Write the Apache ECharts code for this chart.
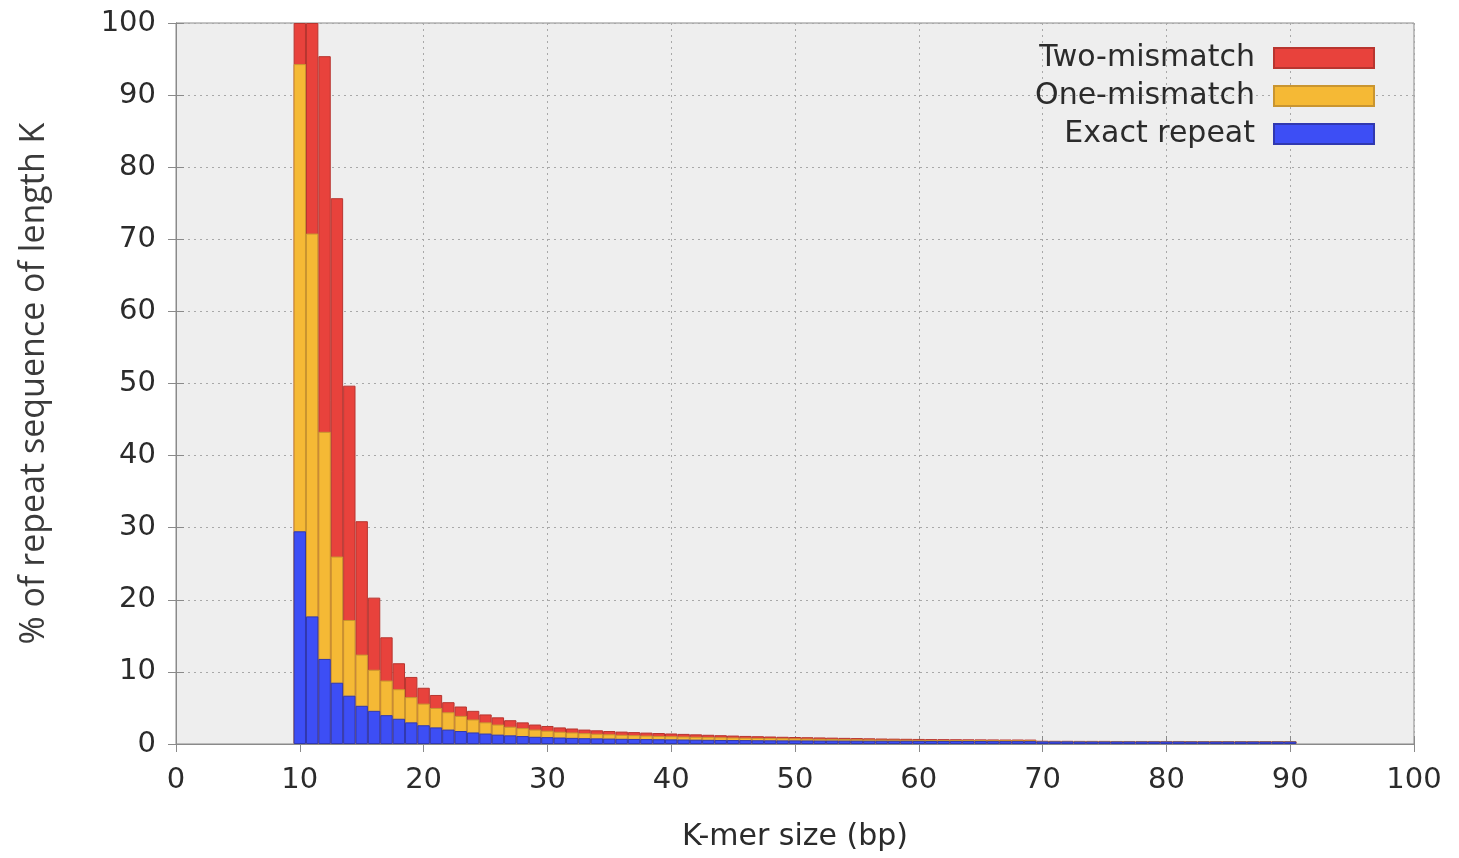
<!DOCTYPE html>
<html>
<head>
<meta charset="utf-8">
<script src="https://cdn.jsdelivr.net/npm/echarts@6/dist/echarts.min.js"></script>
<style>html,body{margin:0;padding:0;background:#fff;}#c{width:1459px;height:858px;}</style>
</head>
<body>
<div id="c"></div>
<script>
// K-mer sizes
const kmers = [];
for (let k = 10; k <= 90; k++) kmers.push(k);

// cumulative tops:
// exact repeat, exact + one-mismatch, exact + one + two-mismatch
const exactTop = [29.5,17.7,11.8,8.5,6.7,5.3,4.6,4.0,3.5,3.0,
  2.6,2.3,2.0,1.8,1.6,1.45,1.3,1.2,1.1,1.0,
  0.95,0.9,0.85,0.8,0.78,0.75,0.72,0.7,0.68,0.66,
  0.64,0.62,0.6,0.58,0.56,0.55,0.54,0.52,0.51,0.5,
  0.5,0.49,0.48,0.48,0.47,0.46,0.45,0.45,0.44,0.44,
  0.43,0.42,0.42,0.42,0.41,0.41,0.4,0.4,0.4,0.4,
  0.36,0.36,0.36,0.35,0.35,0.35,0.35,0.35,0.35,0.35,
  0.35,0.35,0.34,0.34,0.34,0.34,0.34,0.34,0.34,0.34,0.34];
const oneTop = [94.3,70.8,43.3,26.0,17.2,12.4,10.3,8.8,7.6,6.5,
  5.6,5.0,4.4,3.9,3.4,3.0,2.7,2.4,2.2,2.0,
  1.85,1.7,1.6,1.5,1.42,1.35,1.28,1.22,1.17,1.12,
  1.08,1.04,1.0,0.96,0.93,0.9,0.87,0.84,0.82,0.8,
  0.78,0.75,0.72,0.7,0.68,0.65,0.63,0.61,0.6,0.58,
  0.57,0.56,0.55,0.55,0.54,0.54,0.53,0.53,0.52,0.52,
  0.41,0.41,0.4,0.4,0.4,0.4,0.4,0.39,0.39,0.39,
  0.39,0.39,0.38,0.38,0.38,0.38,0.38,0.38,0.38,0.38,0.38];
const twoTop = [100,100,95.4,75.7,49.7,30.9,20.3,14.8,11.2,9.3,
  7.8,6.8,5.8,5.2,4.6,4.1,3.7,3.3,3.0,2.7,
  2.5,2.3,2.15,2.0,1.9,1.8,1.72,1.65,1.58,1.52,
  1.46,1.4,1.34,1.28,1.22,1.17,1.12,1.08,1.04,1.0,
  0.97,0.94,0.91,0.88,0.85,0.82,0.79,0.76,0.74,0.72,
  0.7,0.68,0.67,0.66,0.65,0.64,0.63,0.62,0.62,0.61,
  0.45,0.44,0.44,0.43,0.43,0.43,0.42,0.42,0.42,0.42,
  0.42,0.42,0.41,0.41,0.41,0.41,0.41,0.41,0.41,0.41,0.41];

const ticks = [0,10,20,30,40,50,60,70,80,90,100];

const FONT = 'DejaVu Sans';
const TXT = '#2b2b2b';
const AX = '#8a8a8a';

function mk(name, vals, color, border, z) {
  return {
    name: name, type: 'bar',
    barWidth: '100%', barGap: '-100%',
    z: z,
    data: kmers.map((k, i) => [k, vals[i]]),
    itemStyle: { color: color, borderColor: border, borderWidth: 1 },
    emphasis: { disabled: true },
    animation: false
  };
}

const chart = echarts.init(document.getElementById('c'));
chart.setOption({
  backgroundColor: '#ffffff',
  animation: false,
  textStyle: { fontFamily: FONT },
  grid: { left: 176, right: 45, top: 23, bottom: 114, show: true,
          backgroundColor: '#eeeeee', borderColor: AX, borderWidth: 1 },
  legend: {
    orient: 'vertical', align: 'right',
    right: 79, top: 37,
    itemWidth: 100, itemHeight: 20, itemGap: 6,
    icon: 'rect',
    data: ['Two-mismatch', 'One-mismatch', 'Exact repeat'],
    textStyle: { fontFamily: FONT, fontSize: 30, color: TXT, lineHeight: 32, padding: [0, 14, 0, 0] }
  },
  xAxis: [{
    type: 'value', min: 0, max: 100, interval: 10,
    name: 'K-mer size (bp)', nameLocation: 'middle', nameGap: 78,
    nameTextStyle: { fontFamily: FONT, fontSize: 30, color: TXT },
    axisLine: { show: true, lineStyle: { color: AX } },
    axisTick: { show: true, inside: true, length: 8, lineStyle: { color: AX } },
    axisLabel: { fontFamily: FONT, fontSize: 29, color: TXT, margin: 22,
      formatter: v => ticks.indexOf(v) >= 0 ? String(v) : '' },
    splitLine: { show: true, lineStyle: { color: '#a8a8a8', type: [2, 4], width: 1 } }
  }, {
    type: 'value', min: 0, max: 100, interval: 10, position: 'top',
    axisLine: { show: true, lineStyle: { color: AX } },
    axisTick: { show: true, inside: true, length: 8, lineStyle: { color: AX } },
    axisLabel: { show: false }, splitLine: { show: false }
  }],
  yAxis: [{
    type: 'value', min: 0, max: 100, interval: 10,
    name: '% of repeat sequence of length K', nameLocation: 'middle', nameGap: 125,
    nameTextStyle: { fontFamily: 'Open Sans', fontSize: 34, color: '#3a3a3a' },
    axisLine: { show: true, lineStyle: { color: AX } },
    axisTick: { show: true, inside: true, length: 8, lineStyle: { color: AX } },
    axisLabel: { fontFamily: FONT, fontSize: 29, color: TXT, margin: 20 },
    splitLine: { show: true, lineStyle: { color: '#a8a8a8', type: [2, 4], width: 1 } }
  }, {
    type: 'value', min: 0, max: 100, interval: 10, position: 'right',
    axisLine: { show: true, lineStyle: { color: AX } },
    axisTick: { show: true, inside: true, length: 8, lineStyle: { color: AX } },
    axisLabel: { show: false }, splitLine: { show: false }
  }],
  series: [
    mk('Two-mismatch', twoTop, '#e8423c', '#b8352f', 2),
    mk('One-mismatch', oneTop, '#f5b935', '#c99530', 3),
    mk('Exact repeat', exactTop, '#3d4ef5', '#3038b0', 4)
  ]
});
</script>
</body>
</html>
